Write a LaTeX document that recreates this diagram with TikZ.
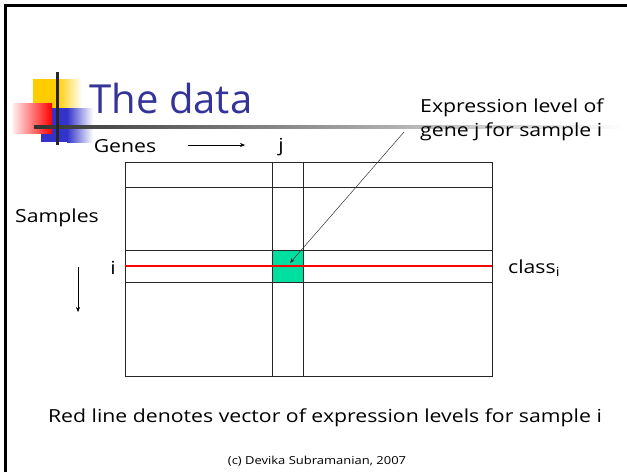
\documentclass[tikz,border=0pt]{standalone}
\usepackage{fontspec}
\setmainfont{Open Sans}
\newfontfamily\labelfont[FakeStretch=1.18]{Open Sans}
\usetikzlibrary{arrows.meta}
\definecolor{titleblue}{RGB}{51,51,153}
\definecolor{cellgreen}{RGB}{0,222,160}
\definecolor{boxyellow}{RGB}{255,204,0}
\definecolor{boxblue}{RGB}{51,51,204}
\tikzstyle{label}=[inner sep=0pt, font=\labelfont\fontsize{18}{20}\selectfont]
\tikzstyle{grid}=[black!85, line width=0.9pt]
\tikzstyle{pointer}=[-{Stealth[length=5pt,width=4pt]}, line width=0.5pt]

\begin{document}
\begin{tikzpicture}[x=1pt, y=-1pt]
	\useasboundingbox (0,0) rectangle (627,472);
	% slide frame
	\draw[black, line width=3pt] (5,472) -- (5,5) -- (627,5);
	% header decoration
	\fill[boxyellow] (33,79) rectangle (57,108);
	\shade[left color=boxyellow, right color=white] (57,79) rectangle (82,108);
	\fill[boxblue] (41,108) rectangle (67,142);
	\shade[left color=boxblue, right color=white] (67,108) rectangle (93,142);
	\shade[left color=red!8, right color=red] (13,103) rectangle (52,133);
	\shade[left color=black!80, right color=white] (34,125.5) rectangle (625,128.5);
	\fill[black!85] (55.5,72) rectangle (58.5,145);
	\node[inner sep=0pt, text=titleblue, font=\fontsize{40}{44}\selectfont] (title) at (171,98) {The data};
	% the matrix
	\fill[cellgreen] (272,250) rectangle (303,282);
	\draw[grid] (125,162) rectangle (492,376);
	\foreach \y in {187,250,282}
		\draw[grid] (125,\y) -- (492,\y);
	\foreach \x in {272,303}
		\draw[grid] (\x,162) -- (\x,376);
	\draw[red, line width=2.5pt] (125,266) -- (492,266);
	\coordinate (cell) at (290,263);
	% labels
	\node[label] (genes) at (125,146) {Genes};
	\node[label] (jcol) at (281,147) {j};
	\node[label] (samples) at (57,218) {Samples};
	\node[label] (irow) at (113,268) {i};
	\node[label, anchor=west] (class) at (508,268) {class\textsubscript{i}};
	\node[label, anchor=west] (exprA) at (420,108) {Expression level of};
	\node[label, anchor=west] (exprB) at (420,132) {gene j for sample i};
	\node[label] (note) at (325,418) {Red line denotes vector of expression levels for sample i};
	\node[inner sep=0pt, font=\labelfont\fontsize{11}{13}\selectfont] (copy) at (317,461) {(c) Devika Subramanian, 2007};
	% arrows
	\coordinate (gA) at (188,145);
	\coordinate (gB) at (245,145);
	\draw[pointer] (gA) -- (gB);
	\coordinate (sA) at (78,267);
	\coordinate (sB) at (78,312);
	\draw[pointer] (sA) -- (sB);
	\draw[pointer, black!80] ([xshift=-16pt]exprB.west) -- (cell);
\end{tikzpicture}
\end{document}
